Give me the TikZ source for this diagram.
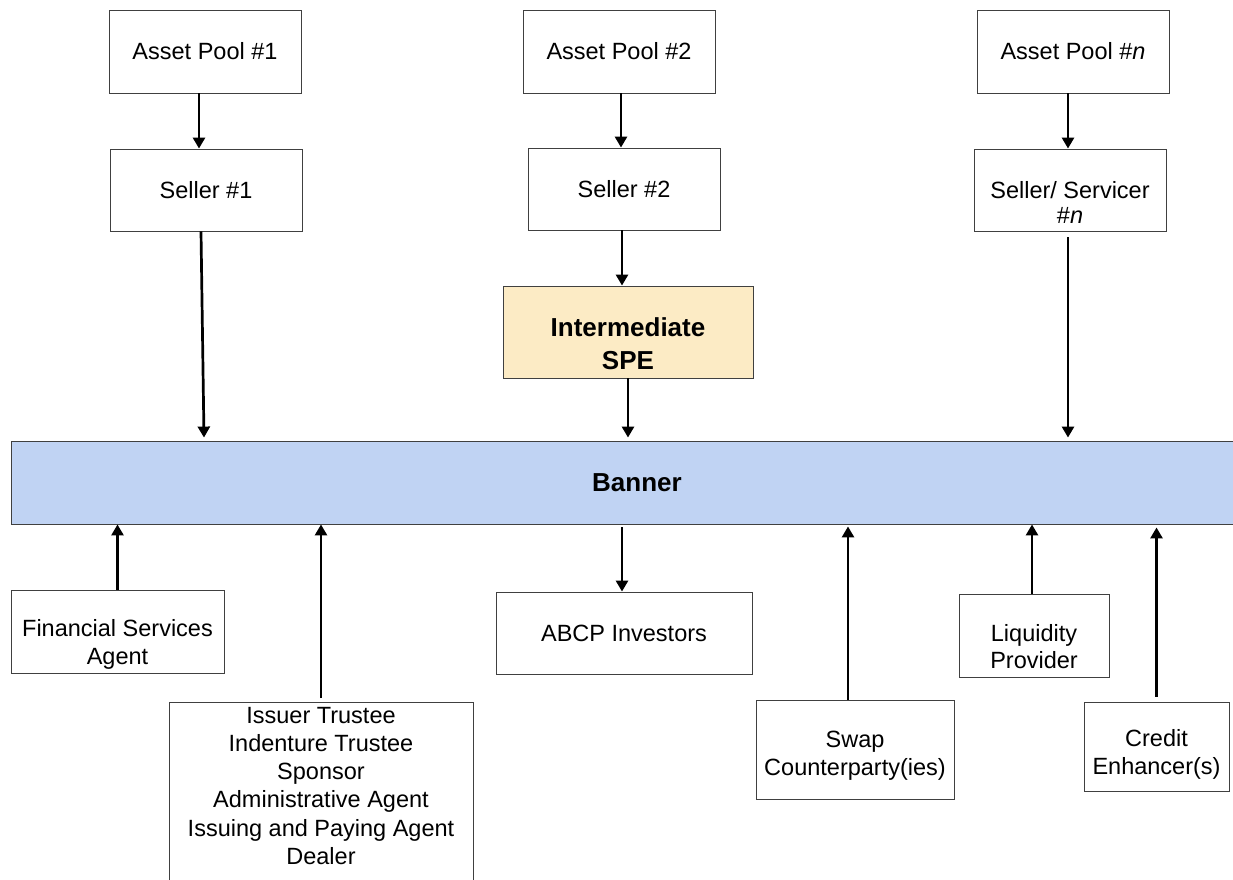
\documentclass[tikz,border=0pt]{standalone}
\usepackage{fontspec}
\setmainfont{Liberation Sans}
\usetikzlibrary{arrows.meta, positioning, calc}
\definecolor{spefill}{RGB}{252,235,197}
\definecolor{bannerfill}{RGB}{192,211,243}
\definecolor{boxline}{RGB}{64,64,64}

\tikzset{
  box/.style={draw=boxline, line width=0.9pt, fill=white, align=center,
    font=\fontsize{23.5}{28}\selectfont, inner sep=2pt},
  boldbox/.style={box, font=\bfseries\fontsize{26}{33}\selectfont},
  lbl/.style={align=center, inner sep=0pt, font=\fontsize{23.5}{27.5}\selectfont},
  lowtext/.style 2 args={label={[lbl, yshift=-#1]center:{#2}}},
  flow/.style={line width=2.7pt, -{Triangle[width=12pt,length=11pt]}}
}

\begin{document}
\begin{tikzpicture}[x=1pt, y=-1pt]
  \clip (0,0) rectangle (1233,879);
  \fill[white] (0,0) rectangle (1233,879);
  % asset pools and sellers
  \node[box, minimum width=192pt, minimum height=83pt] (ap1) at (205,51.5) {Asset Pool \#1};
  \node[box, minimum width=192pt, minimum height=83pt] (ap2) at (619,51.5) {Asset Pool \#2};
  \node[box, minimum width=192pt, minimum height=83pt] (apn) at (1073,51.5) {Asset Pool \#\textit{n}};
  \node[box, minimum width=192pt, minimum height=82pt] (s1) at (206,190) {Seller \#1};
  \node[box, minimum width=192pt, minimum height=82pt] (s2) at (624,189) {Seller \#2};
  \node[box, minimum width=192pt, minimum height=82pt,
    label={[lbl, yshift=-12pt, font=\fontsize{23.5}{25}\selectfont]center:{Seller/ Servicer\\\#\textit{n}}}] (sn) at (1070,190) {};
  \node[box, fill=spefill, minimum width=250pt, minimum height=92pt,
    label={[lbl, yshift=-12pt, font=\bfseries\fontsize{26}{33}\selectfont]center:{Intermediate\\SPE}}] (spe) at (628,332) {};
  % banner
  \node[boldbox, fill=bannerfill, minimum width=1252pt, minimum height=83pt] (bnr) at (637,482.5) {Banner};
  % parties below
  \node[box, minimum width=213pt, minimum height=83pt, lowtext={13pt}{Financial Services\\Agent}] (fsa) at (117.5,631.5) {};
  \node[box, minimum width=304pt, minimum height=200pt, anchor=north,
    label={[lbl, anchor=north, yshift=-5pt, font=\fontsize{23.5}{28.2}\selectfont]north:{Issuer Trustee\\Indenture Trustee\\Sponsor\\Administrative Agent\\Issuing and Paying Agent\\Dealer}}] (iss) at (321,702) {};
  \node[box, minimum width=256pt, minimum height=82pt] (abcp) at (624,633) {ABCP Investors};
  \node[box, minimum width=198pt, minimum height=99pt, lowtext={6pt}{Swap\\Counterparty(ies)}] (swap) at (855,749.5) {};
  \node[box, minimum width=150pt, minimum height=83pt, lowtext={11pt}{Liquidity\\Provider}] (liq) at (1034,635.5) {};
  \node[box, minimum width=145pt, minimum height=89pt, lowtext={8pt}{Credit\\Enhancer(s)}] (cred) at (1156.5,746.5) {};
  % arrows
  \draw[flow] ([xshift=-6pt]ap1.south) -- ([xshift=-6pt]ap1.south |- s1.north);
  \draw[flow] ([xshift=2pt]ap2.south) -- ([xshift=2pt]ap2.south |- s2.north);
  \draw[flow] ([xshift=-5pt]apn.south) -- ([xshift=-5pt]apn.south |- sn.north);
  \draw[flow] ([xshift=-2pt]s2.south) -- ([xshift=-2pt]s2.south |- spe.north);
  \draw[flow] ([xshift=-5pt]s1.south) -- ([xshift=-2pt,yshift=3pt]s1.south |- bnr.north);
  \draw[flow] (spe.south) -- ([yshift=3pt]spe.south |- bnr.north);
  \draw[flow] ([xshift=-2pt,yshift=-6pt]sn.south) -- ([xshift=-2pt,yshift=3pt]sn.south |- bnr.north);
  \draw[flow] ([xshift=-2pt,yshift=-3pt]abcp.north |- bnr.south) -- ([xshift=-2pt]abcp.north);
  \draw[flow] (fsa.north) -- (fsa.north |- bnr.south);
  \draw[flow] ([yshift=4pt]iss.north) -- (iss.north |- bnr.south);
  \draw[flow] ([xshift=-7pt]swap.north) -- ([xshift=-7pt,yshift=-2pt]swap.north |- bnr.south);
  \draw[flow] ([xshift=-2pt]liq.north) -- ([xshift=-2pt]liq.north |- bnr.south);
  \draw[flow] ([yshift=5pt]cred.north) -- ([yshift=-3pt]cred.north |- bnr.south);
\end{tikzpicture}
\end{document}
